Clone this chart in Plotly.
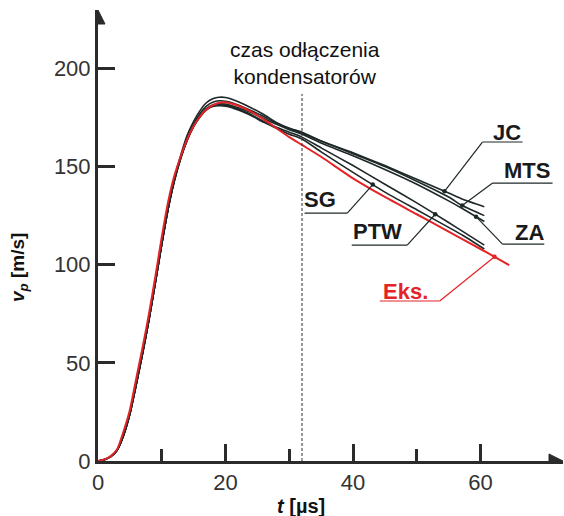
import numpy as np
import plotly.graph_objects as go

# ---------------- data ----------------
t_red = [0, 1, 2, 3, 4, 5, 6, 7, 8, 9, 10, 11, 12, 13, 14, 15, 16, 17, 18, 19, 20, 21, 22, 24, 26, 28, 30, 32, 35, 40, 45, 50, 55, 60, 62, 64.5]
v_eks = [0, 0.8, 2.5, 6, 15, 26, 42, 58, 75, 94, 114, 132, 145.5, 155.5, 164, 170.5, 175.5, 179, 181.3, 182.5, 182.7, 182, 181, 178, 174, 169.5, 165, 161, 155, 144, 134.5, 125.7, 116.8, 108, 104.4, 99.8]

t_blk = [0, 1, 2, 3, 4, 5, 6, 7, 8, 9, 10, 11, 12, 13, 14, 15, 16, 17, 18, 19, 20, 21, 22, 24, 26, 28, 30, 32, 35, 40, 45, 50, 55, 57.2, 60.6]
v_jc  = [0, 0.7, 2.2, 5.5, 13, 24, 39, 55, 72, 91, 110.5, 128.5, 144, 156, 166, 173, 178.5, 182.5, 184.5, 185.3, 185.2, 184.3, 183, 180, 176.5, 172.5, 169.5, 167.5, 163, 157, 150.5, 143.5, 136.5, 133.3, 129.5]
v_mts = [0, 0.7, 2.2, 5.5, 13, 24, 39, 55, 72, 91, 110.5, 128.5, 143.5, 155, 164.5, 171.5, 177, 180.8, 182.8, 183.5, 183.3, 182.5, 181.3, 178.5, 175.5, 172, 169.5, 167, 163, 156.5, 150, 142.5, 134.5, 130, 125]
v_za  = [0, 0.7, 2.2, 5.5, 13, 24, 39, 55, 72, 91, 110.5, 128.5, 143, 154.5, 163.5, 170.5, 175.8, 179.5, 181.4, 182, 181.8, 181, 180, 177.5, 174.5, 171.5, 168.8, 166.5, 162, 155.5, 148.5, 141, 132.5, 128.5, 122]
v_ptw = [0, 0.7, 2.2, 5.5, 13, 24, 39, 55, 72, 91, 110.5, 128.5, 143, 154.5, 163.5, 170.5, 175.5, 179.2, 181, 181.5, 181.3, 180.5, 179.3, 176.5, 173, 170, 167.5, 165, 159.5, 150.5, 141, 131.5, 121.5, 117, 110]
v_sg  = [0, 0.7, 2.2, 5.5, 13, 24, 39, 55, 72, 91, 110.5, 128.5, 143, 154.5, 163.5, 170.5, 175.3, 178.8, 180.6, 181, 180.8, 180, 178.8, 176, 172.5, 169.5, 166.5, 164, 157.5, 147, 137, 128, 119, 115, 108]

series_names = ["JC", "MTS", "ZA", "PTW", "SG"]
series_vals = [v_jc, v_mts, v_za, v_ptw, v_sg]

# label anchors (t on curve), label text positions, underline extents
label_names = ["JC", "MTS", "ZA", "SG", "PTW", "Eks."]
anchor_t    = [54.35, 57.13, 59.3, 43.1, 52.9, 62.2]
text_t      = [64.2, 67.3, 67.7, 34.75, 43.8, 48.2]
text_v      = [167.6, 148.2, 116.2, 133.0, 116.7, 86.6]
under_t0    = [60.3, 61.9, 63.45, 32.4, 39.8, 44.2]
under_t1    = [66.6, 71.3, 70.0, 39.1, 48.5, 53.6]
under_v     = [162.5, 141.6, 110.5, 126.3, 110.0, 81.5]
joint_t     = [60.3, 61.9, 63.45, 39.1, 48.5, 53.6]

y_ticks = [0, 50, 100, 150, 200]
x_ticks = [0, 20, 40, 60]
x_minor = [10, 30, 50]
t_disconnect = 32

X_MAX = 72.94
Y_MAX = 229.75

RED = "#e42326"
BLK = "#1e2828"
AX = "#2b2b2b"
FONT = "Liberation Sans, Arial, sans-serif"

fig = go.Figure()

for name, vals in zip(series_names, series_vals):
    fig.add_trace(go.Scatter(x=t_blk, y=vals, mode="lines", name=name,
                             line=dict(color=BLK, width=1.6, shape="spline", smoothing=0.6),
                             showlegend=False, hoverinfo="skip"))
fig.add_trace(go.Scatter(x=t_red, y=v_eks, mode="lines", name="Eks.",
                         line=dict(color=RED, width=2, shape="spline", smoothing=0.6),
                         showlegend=False, hoverinfo="skip"))

# anchor values on curves
curve_map = {"JC": (t_blk, v_jc), "MTS": (t_blk, v_mts), "ZA": (t_blk, v_za),
             "SG": (t_blk, v_sg), "PTW": (t_blk, v_ptw), "Eks.": (t_red, v_eks)}
anchor_v = [float(np.interp(at, *curve_map[n])) for n, at in zip(label_names, anchor_t)]

shapes = []
annotations = []
for i, n in enumerate(label_names):
    col = RED if n == "Eks." else BLK
    lw = 1.2
    shapes.append(dict(type="line", xref="x", yref="y", x0=under_t0[i], x1=under_t1[i],
                       y0=under_v[i], y1=under_v[i], line=dict(color=col, width=lw)))
    shapes.append(dict(type="line", xref="x", yref="y", x0=joint_t[i], x1=anchor_t[i],
                       y0=under_v[i], y1=anchor_v[i], line=dict(color=col, width=lw)))
    annotations.append(dict(x=text_t[i], y=text_v[i], xref="x", yref="y", text="<b>" + n + "</b>",
                            showarrow=False, font=dict(family=FONT, size=22, color=RED if n == "Eks." else "#1a1a1a"),
                            xanchor="center", yanchor="middle"))

fig.add_trace(go.Scatter(x=anchor_t, y=anchor_v, mode="markers",
                         marker=dict(size=4.5, color=[RED if n == "Eks." else BLK for n in label_names]),
                         showlegend=False, hoverinfo="skip"))

# dashed vertical line
shapes.append(dict(type="line", xref="x", yref="y", x0=t_disconnect, x1=t_disconnect, y0=0, y1=187,
                   line=dict(color="#333", width=1, dash="3px,2px")))

# axis arrowheads
shapes.append(dict(type="path", xref="x", yref="y", xsizemode="pixel", ysizemode="pixel",
                   xanchor=0, yanchor=Y_MAX, path="M -7,-14 L 7,-14 L 0,0 Z",
                   fillcolor=AX, line=dict(color=AX, width=1)))
shapes.append(dict(type="path", xref="x", yref="y", xsizemode="pixel", ysizemode="pixel",
                   xanchor=X_MAX, yanchor=0, path="M -14,-7 L -14,7 L 0,0 Z",
                   fillcolor=AX, line=dict(color=AX, width=1)))

annotations.append(dict(x=32.4, y=203, xref="x", yref="y",
                        text="czas odłączenia<br>kondensatorów", showarrow=False,
                        font=dict(family=FONT, size=21, color="#111"), xanchor="center", yanchor="middle"))
annotations.append(dict(x=-0.17, y=98.8, xref="paper", yref="y", textangle=-90,
                        text="<b><i>v</i><sub><i>p</i></sub> [m/s]</b>", showarrow=False,
                        font=dict(family=FONT, size=19, color="#111"), xanchor="center", yanchor="middle"))
annotations.append(dict(x=31.9, y=-0.1, xref="x", yref="paper",
                        text="<b><i>t</i> [µs]</b>", showarrow=False,
                        font=dict(family=FONT, size=20, color="#111"), xanchor="center", yanchor="middle"))

fig.update_layout(
    width=564, height=516,
    margin=dict(l=98, r=1, t=10, b=55),
    paper_bgcolor="white", plot_bgcolor="white",
    shapes=shapes, annotations=annotations,
    xaxis=dict(range=[0, X_MAX], showgrid=False, zeroline=False, showline=True,
               linecolor=AX, linewidth=3, ticks="inside", ticklen=17, tickwidth=2.5,
               tickcolor=AX, tickvals=x_ticks, ticktext=[str(v) for v in x_ticks],
               tickfont=dict(family=FONT, size=22, color="#333"),
               minor=dict(ticks="inside", ticklen=12, tickwidth=2.5, tickcolor=AX, tickvals=x_minor)),
    yaxis=dict(range=[0, Y_MAX], showgrid=False, zeroline=False, showline=True,
               linecolor=AX, linewidth=3, ticks="inside", ticklen=17, tickwidth=2.5,
               tickcolor=AX, tickvals=y_ticks, ticktext=[str(v) for v in y_ticks],
               tickfont=dict(family=FONT, size=22, color="#333")),
)

fig.write_html("out.html")
